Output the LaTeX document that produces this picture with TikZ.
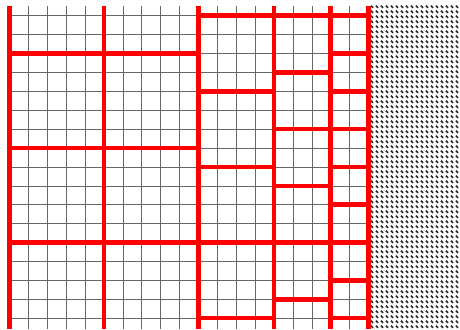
\documentclass[tikz,border=0pt]{standalone}
\usetikzlibrary{patterns}
\pgfdeclarepatternformonly{diagdash}{\pgfqpoint{-1pt}{-1pt}}{\pgfqpoint{6pt}{6pt}}{\pgfqpoint{5pt}{5pt}}{%
  \pgfsetlinewidth{1.6pt}%
  \pgfpathmoveto{\pgfqpoint{0.9pt}{3.4pt}}\pgfpathlineto{\pgfqpoint{3.1pt}{1.2pt}}\pgfusepath{stroke}}
\tikzset{
  gridline/.style={black!60,line width=0.6pt},
  stud/.style={red,line width=4.6pt}
}
\begin{document}
\begin{tikzpicture}[x=1pt,y=-1pt]
\useasboundingbox (0,0) rectangle (460,329);
\fill[white] (0,0) rectangle (460,329);
% thin grid
\begin{scope}
\clip (9.4,6) rectangle (368.5,329);
\foreach \k in {0,...,19} \draw[gridline] ({9.4+18.9*\k},6) -- ({9.4+18.9*\k},329);
\foreach \k in {0,...,16} \draw[gridline] (9.4,{15.7+18.9*\k}) -- (368.5,{15.7+18.9*\k});
\end{scope}
% hatched region
\fill[pattern=diagdash,pattern color=black!85] (370,6) rectangle (460,329);
% red horizontals
\foreach \k in {2,7,12} \draw[stud] (9.4,{15.7+18.9*\k}) -- (198.4,{15.7+18.9*\k});
\draw[stud] (198.4,15.7) -- (368.5,15.7);
\foreach \k in {4,8,12,16} \draw[stud] (198.4,{15.7+18.9*\k}) -- (274,{15.7+18.9*\k});
\foreach \k in {3,6,9,12,15} \draw[stud] (274,{15.7+18.9*\k}) -- (330.7,{15.7+18.9*\k});
\foreach \k in {2,4,6,8,10,12,14,16} \draw[stud] (330.7,{15.7+18.9*\k}) -- (368.5,{15.7+18.9*\k});
% red verticals
\foreach \k in {0,5,10,14,17,19} \draw[stud] ({9.4+18.9*\k},6) -- ({9.4+18.9*\k},329);
\end{tikzpicture}
\end{document}
